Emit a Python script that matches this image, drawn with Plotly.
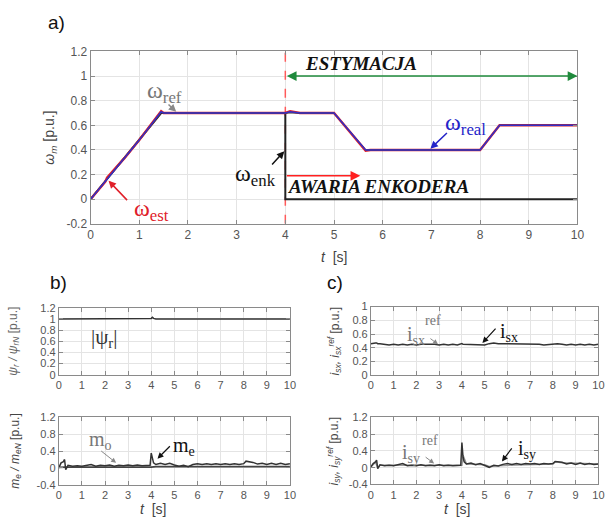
import plotly.graph_objects as go

# ---------------- data: panel a ----------------
t_w = [0, 0.30, 0.34, 0.70, 1.00, 1.45, 1.50, 1.70, 2.50, 3.50, 4.00, 4.10, 4.30,
       5.00, 5.65, 5.75, 6.50, 7.50, 8.00, 8.40, 8.50, 9.00, 10.0]
omega_real = [0, 0.145, 0.17, 0.34, 0.48, 0.71, 0.70, 0.70, 0.70, 0.70, 0.70, 0.71, 0.70,
              0.70, 0.40, 0.40, 0.40, 0.40, 0.40, 0.60, 0.60, 0.60, 0.60]
omega_est = [0, 0.14, 0.175, 0.335, 0.48, 0.715, 0.70, 0.70, 0.70, 0.70, 0.70, 0.715, 0.70,
             0.70, 0.395, 0.40, 0.40, 0.40, 0.40, 0.60, 0.60, 0.60, 0.60]
t_ref = [0, 1.45, 5.0, 5.65, 8.0, 8.4, 10.0]
omega_ref = [0, 0.70, 0.70, 0.40, 0.40, 0.60, 0.60]
t_enk = [0, 1.45, 4.0, 4.0, 10.0]
omega_enk = [0, 0.70, 0.70, 0.0, 0.0]
t_fault = [4.0, 4.0]
fault_line = [-0.2, 1.2]

# ---------------- data: panels b, c ----------------
t_s = [0.0, 0.1, 0.2, 0.25, 0.3, 0.4,
       0.6, 0.8, 1.0, 1.2, 1.4, 1.6, 1.8, 2.0, 2.2, 2.4, 2.6, 2.8, 3.0, 3.2, 3.4, 3.6, 3.8,
       3.95, 4.0, 4.05, 4.1,
       4.2, 4.4, 4.6, 4.8, 5.0, 5.2, 5.4, 5.6, 5.8, 6.0, 6.2, 6.4, 6.6, 6.8, 7.0, 7.2, 7.4, 7.6, 7.8, 8.0,
       8.1,
       8.2, 8.4, 8.6, 8.8, 9.0, 9.2, 9.4, 9.6, 9.8, 10.0]
psi_r = [1.0, 1.0, 1.0, 1.0, 1.0, 1.0,
         1.0, 1.0, 1.0, 1.0, 1.0, 1.0, 1.0, 1.0, 1.0, 1.0, 1.0, 1.0, 1.0, 1.0, 1.0, 1.0, 1.0,
         1.0, 1.01, 1.03, 1.01,
         1.0, 1.0, 1.0, 1.0, 1.0, 1.0, 0.995, 0.99, 0.995, 1.0, 1.0, 1.0, 1.0, 1.0, 1.0, 1.0, 1.0, 1.0, 1.0, 1.0,
         1.0,
         1.0, 1.0, 1.0, 1.0, 1.0, 1.0, 1.0, 1.0, 1.0, 1.0]
i_sx = [0.46, 0.47, 0.47, 0.47, 0.46, 0.46,
        0.45, 0.44, 0.45, 0.44, 0.45, 0.44, 0.45, 0.44, 0.45, 0.45, 0.46, 0.45, 0.44, 0.45, 0.44, 0.45, 0.44,
        0.45, 0.46, 0.45, 0.45,
        0.44, 0.45, 0.44, 0.45, 0.44, 0.46, 0.47, 0.46, 0.46, 0.46, 0.45, 0.46, 0.45, 0.46, 0.46, 0.46, 0.45, 0.44, 0.45, 0.46,
        0.46,
        0.46, 0.45, 0.44, 0.45, 0.44, 0.45, 0.44, 0.45, 0.44, 0.45]
m_e = [0.0, 0.12, 0.15, 0.20, -0.04, 0.06,
       0.04, 0.05, 0.04, 0.06, 0.08, 0.04, 0.06, 0.05, 0.07, 0.04, 0.06, 0.05, 0.07, 0.05, 0.07, 0.05, 0.06,
       0.06, 0.35, 0.25, 0.12,
       0.08, 0.11, 0.08, 0.11, 0.07, 0.04, 0.06, 0.03, 0.08, 0.10, 0.08, 0.10, 0.08, 0.10, 0.08, 0.10, 0.08, 0.10, 0.08, 0.10,
       0.16,
       0.15, 0.13, 0.09, 0.11, 0.08, 0.11, 0.08, 0.11, 0.08, 0.10]
i_sy = [0.02, 0.10, 0.14, 0.18, -0.02, 0.07,
        0.05, 0.06, 0.05, 0.07, 0.10, 0.05, 0.06, 0.05, 0.07, 0.05, 0.06, 0.05, 0.07, 0.05, 0.06, 0.05, 0.06,
        0.06, 0.60, 0.25, 0.14,
        0.09, 0.11, 0.07, 0.10, 0.06, 0.01, 0.06, 0.04, 0.08, 0.10, 0.08, 0.10, 0.08, 0.10, 0.09, 0.10, 0.08, 0.10, 0.09, 0.10,
        0.15,
        0.14, 0.13, 0.09, 0.11, 0.08, 0.11, 0.08, 0.10, 0.08, 0.09]
t_o = [0.0, 0.3, 4.0, 4.2, 10.0]
m_o = [0.01, 0.02, 0.02, 0.03, 0.03]
t_sy_ref = [0.0, 0.2, 0.3, 0.4, 4.0, 4.05, 4.2, 5.0, 5.2, 5.6, 8.0, 8.1, 8.4, 10.0]
i_sy_ref = [0.02, 0.13, 0.0, 0.06, 0.06, 0.3, 0.09, 0.07, 0.03, 0.05, 0.09, 0.14, 0.12, 0.09]

# tick labels
x_ticks = [0, 1, 2, 3, 4, 5, 6, 7, 8, 9, 10]
x_text = ["0", "1", "2", "3", "4", "5", "6", "7", "8", "9", "10"]
ya_vals = [-0.2, 0, 0.2, 0.4, 0.6, 0.8, 1.0, 1.2]
ya_text = ["-0.2", "0", "0.2", "0.4", "0.6", "0.8", "1", "1.2"]
yb_vals = [0, 0.2, 0.4, 0.6, 0.8, 1.0, 1.2]
yb_text = ["0", "0.2", "0.4", "0.6", "0.8", "1", "1.2"]
yc_vals = [0, 0.2, 0.4, 0.6, 0.8, 1.0]
yc_text = ["0", "0.2", "0.4", "0.6", "0.8", "1"]
yd_vals = [-0.4, 0, 0.4, 0.8, 1.2]
yd_text = ["-0.4", "0", "0.4", "0.8", "1.2"]

W, H = 613, 527
def px(x):
    return x / W
def py(y):
    return 1 - y / H

fig = go.Figure()
DARK = "#333333"
GRAY = "#8a8a8a"

# panel a
fig.add_trace(go.Scatter(x=t_fault, y=fault_line, mode="lines",
                         line=dict(color="#ff5a5a", width=1.5, dash="dash"), xaxis="x", yaxis="y"))
fig.add_trace(go.Scatter(x=t_enk, y=omega_enk, mode="lines",
                         line=dict(color="#222222", width=2), xaxis="x", yaxis="y"))
fig.add_trace(go.Scatter(x=t_w, y=omega_est, mode="lines",
                         line=dict(color="#e0202a", width=2.5), xaxis="x", yaxis="y"))
fig.add_trace(go.Scatter(x=t_ref, y=omega_ref, mode="lines",
                         line=dict(color="#333333", width=1), xaxis="x", yaxis="y"))
fig.add_trace(go.Scatter(x=t_w, y=omega_real, mode="lines",
                         line=dict(color="#3030c8", width=1.5), xaxis="x", yaxis="y"))

# panel b top
fig.add_trace(go.Scatter(x=t_s, y=psi_r, mode="lines", line=dict(color=DARK, width=1.5),
                         xaxis="x2", yaxis="y2"))
# panel c top
fig.add_trace(go.Scatter(x=t_s, y=i_sx, mode="lines", line=dict(color=DARK, width=1.5),
                         xaxis="x3", yaxis="y3"))
# panel b bottom
fig.add_trace(go.Scatter(x=t_o, y=m_o, mode="lines", line=dict(color="#444444", width=1.8),
                         xaxis="x4", yaxis="y4"))
fig.add_trace(go.Scatter(x=t_s, y=m_e, mode="lines", line=dict(color=DARK, width=1.5),
                         xaxis="x4", yaxis="y4"))
# panel c bottom
fig.add_trace(go.Scatter(x=t_sy_ref, y=i_sy_ref, mode="lines", line=dict(color="#9a9a9a", width=1.5),
                         xaxis="x5", yaxis="y5"))
fig.add_trace(go.Scatter(x=t_s, y=i_sy, mode="lines", line=dict(color=DARK, width=1.5),
                         xaxis="x5", yaxis="y5"))

TICKFONT_A = dict(family="Liberation Sans, Arial", size=12, color="#555555")
TICKFONT_S = dict(family="Liberation Sans, Arial", size=11, color="#555555")

def xax(domain, anchor, font):
    return dict(domain=domain, anchor=anchor, range=[0, 10], tickvals=x_ticks, ticktext=x_text,
                showgrid=True, gridcolor="#e4e4e4", gridwidth=1, zeroline=False,
                showline=True, linecolor=GRAY, linewidth=1, mirror="ticks",
                ticks="inside", ticklen=4, tickcolor=GRAY, tickfont=font)

def yax(domain, anchor, rng, vals, text, font):
    return dict(domain=domain, anchor=anchor, range=rng, tickvals=vals, ticktext=text,
                showgrid=True, gridcolor="#e4e4e4", gridwidth=1, zeroline=False,
                showline=True, linecolor=GRAY, linewidth=1, mirror="ticks",
                ticks="inside", ticklen=4, tickcolor=GRAY, tickfont=font)

fig.update_layout(
    width=W, height=H, margin=dict(l=0, r=0, t=0, b=0),
    paper_bgcolor="white", plot_bgcolor="white", showlegend=False,
    xaxis=xax([px(89), px(584)], "y", TICKFONT_A),
    yaxis=yax([py(222.7), py(45.7)], "x", [-0.2, 1.2], ya_vals, ya_text, TICKFONT_A),
    xaxis2=xax([px(56.7), px(291.7)], "y2", TICKFONT_S),
    yaxis2=yax([py(377.7), py(309)], "x2", [0, 1.2], yb_vals, yb_text, TICKFONT_S),
    xaxis3=xax([px(374), px(605.3)], "y3", TICKFONT_S),
    yaxis3=yax([py(378.3), py(307.7)], "x3", [0, 1.0], yc_vals, yc_text, TICKFONT_S),
    xaxis4=xax([px(56.7), px(291.7)], "y4", TICKFONT_S),
    yaxis4=yax([py(490.7), py(421.7)], "x4", [-0.4, 1.2], yd_vals, yd_text, TICKFONT_S),
    xaxis5=xax([px(374), px(605.3)], "y5", TICKFONT_S),
    yaxis5=yax([py(490.5), py(421.7)], "x5", [-0.4, 1.2], yd_vals, yd_text, TICKFONT_S),
)

SERIF = "Liberation Serif, Times New Roman"
SANS = "Liberation Sans, Arial"
ann = []

def label(text, x, y, xr, yr, size, color, family=SERIF):
    ann.append(dict(text=text, x=x, y=y, xref=xr, yref=yr, showarrow=False,
                    font=dict(family=family, size=size, color=color), xanchor="center", yanchor="middle"))

def arrow(x0, y0, x1, y1, xr, yr, color, width=1.5, size=1.0, side="end", head=2):
    ann.append(dict(text="", x=x1, y=y1, ax=x0, ay=y0, xref=xr, yref=yr, axref=xr, ayref=yr,
                    showarrow=True, arrowhead=head, startarrowhead=head, arrowsize=size,
                    startarrowsize=size, arrowwidth=width, arrowcolor=color, arrowside=side,
                    standoff=0, startstandoff=0))

# panel a labels
label("ω<sub>ref</sub>", 1.52, 0.87, "x", "y", 24, "#777777")
arrow(1.57, 0.78, 1.76, 0.71, "x", "y", "#888888")
label("ω<sub>est</sub>", 1.25, -0.085, "x", "y", 24, "#e0202a")
arrow(0.78, -0.02, 0.37, 0.15, "x", "y", "#e0202a")
label("ω<sub>enk</sub>", 3.38, 0.20, "x", "y", 24, "#111111")
arrow(3.7, 0.27, 3.98, 0.39, "x", "y", "#111111")
label("ω<sub>real</sub>", 7.7, 0.61, "x", "y", 24, "#2424c8")
arrow(7.35, 0.55, 6.98, 0.41, "x", "y", "#2424c8")
label("<b><i>ESTYMACJA</i></b>", 5.56, 1.10, "x", "y", 19, "#111111")
arrow(4.0, 1.0, 10.0, 1.0, "x", "y", "#1f8a3c", width=1.5, size=1.3, side="end+start")
label("<b><i>AWARIA ENKODERA</i></b>", 5.91, 0.10, "x", "y", 19, "#111111")
arrow(4.0, 0.19, 5.54, 0.19, "x", "y", "#ff2020", width=1.5, size=1.3)

# panel b top
label("|ψ<sub>r</sub>|", 1.95, 0.66, "x2", "y2", 21, "#333333")
# panel c top
label("i<sub>sx</sub>", 2.0, 0.58, "x3", "y3", 20, "#777777")
label("ref", 2.75, 0.80, "x3", "y3", 14, "#777777")
arrow(2.55, 0.55, 2.95, 0.45, "x3", "y3", "#888888", width=1)
label("i<sub>sx</sub>", 6.05, 0.62, "x3", "y3", 20, "#111111")
arrow(5.54, 0.70, 4.9, 0.47, "x3", "y3", "#111111", width=1.2)
# panel b bottom
label("m<sub>o</sub>", 1.8, 0.66, "x4", "y4", 20, "#777777")
arrow(1.77, 0.43, 2.48, 0.12, "x4", "y4", "#888888", width=1)
label("m<sub>e</sub>", 5.43, 0.50, "x4", "y4", 20, "#111111")
arrow(4.87, 0.55, 4.27, 0.22, "x4", "y4", "#111111", width=1.2)
# panel c bottom
label("i<sub>sy</sub>", 1.78, 0.35, "x5", "y5", 20, "#777777")
label("ref", 2.6, 0.64, "x5", "y5", 14, "#777777")
arrow(2.34, 0.28, 2.78, 0.10, "x5", "y5", "#888888", width=1)
label("i<sub>sy</sub>", 6.85, 0.43, "x5", "y5", 20, "#111111")
arrow(6.24, 0.50, 5.76, 0.15, "x5", "y5", "#111111", width=1.2)

# axis titles
def ptext(text, x, y, size, color="#444444", angle=0, family=SANS):
    ann.append(dict(text=text, x=px(x), y=py(y), xref="paper", yref="paper", showarrow=False,
                    textangle=angle, font=dict(family=family, size=size, color=color),
                    xanchor="center", yanchor="middle"))

ptext("<i>ω<sub>m</sub></i> [p.u.]", 48, 134, 14, angle=-90)
ptext("<i>t</i>  [s]", 336, 257, 14)
ptext("<i>ψ<sub>r</sub> / ψ<sub>rN</sub></i> [p.u.]", 11, 343, 12, color="#666666", angle=-90)
ptext("<i>i<sub>sx</sub>, i<sub>sx</sub><sup>ref</sup></i> [p.u.]", 337, 343, 12, angle=-90)
ptext("<i>m<sub>e</sub> / m<sub>eN</sub></i> [p.u.]", 13, 456, 12, angle=-90)
ptext("<i>i<sub>sy</sub>, i<sub>sy</sub><sup>ref</sup></i> [p.u.]", 336, 456, 12, angle=-90)
ptext("<i>t</i>  [s]", 152, 516, 14)
ptext("<i>t</i>  [s]", 462, 516, 14)
ptext("a)", 54, 16, 19, color="#111111")
ptext("b)", 56, 283, 19, color="#111111")
ptext("c)", 338, 283, 19, color="#111111")

fig.update_layout(annotations=ann)
fig.write_html("out.html")
